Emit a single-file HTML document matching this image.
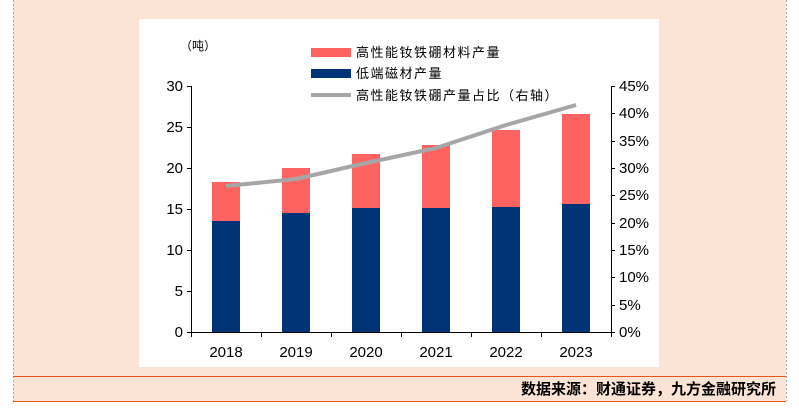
<!DOCTYPE html>
<html><head><meta charset="utf-8"><style>
body{margin:0;width:799px;height:412px;background:#fff;overflow:hidden}
svg{display:block}
text{font-family:"Liberation Sans","Noto Sans CJK SC",sans-serif;fill:#000}
</style></head><body>
<svg width="799" height="412" viewBox="0 0 799 412">
<rect x="13" y="0" width="773" height="401" fill="#fbe3d6"/>
<line x1="13.5" y1="0" x2="13.5" y2="401" stroke="#aaa" stroke-dasharray="2,2"/>
<line x1="786.5" y1="0" x2="786.5" y2="401" stroke="#aaa" stroke-dasharray="2,2"/>
<rect x="139" y="19" width="520" height="348" fill="#fff"/>
<line x1="13" y1="376.5" x2="786" y2="376.5" stroke="#e8541c" stroke-width="1"/>
<line x1="13" y1="401.5" x2="786" y2="401.5" stroke="#e8541c" stroke-width="1"/>
<text x="776" y="394" font-size="15" text-anchor="end" font-weight="bold">数据来源：财通证券，九方金融研究所</text>
<g id="bars">
<rect x="212" y="182" width="28" height="150" fill="#ff6361"/>
<rect x="282" y="168" width="28" height="164" fill="#ff6361"/>
<rect x="352" y="154" width="28" height="178" fill="#ff6361"/>
<rect x="422" y="145" width="28" height="187" fill="#ff6361"/>
<rect x="492" y="130" width="28" height="202" fill="#ff6361"/>
<rect x="562" y="114" width="28" height="218" fill="#ff6361"/>
<rect x="212" y="221" width="28" height="111" fill="#003478"/>
<rect x="282" y="213" width="28" height="119" fill="#003478"/>
<rect x="352" y="208" width="28" height="124" fill="#003478"/>
<rect x="422" y="208" width="28" height="124" fill="#003478"/>
<rect x="492" y="207" width="28" height="125" fill="#003478"/>
<rect x="562" y="204" width="28" height="128" fill="#003478"/>
</g>
<polyline points="226,186 296,179 366,163 436,148 506,125 576,105" fill="none" stroke="#a6a6a6" stroke-width="4" stroke-linejoin="round"/>
<g stroke="#000" stroke-width="1">
<line x1="191.5" y1="86" x2="191.5" y2="332"/>
<line x1="191" y1="332.5" x2="611" y2="332.5"/>
<line x1="611.5" y1="86" x2="611.5" y2="332"/>
<path d="M187 86.5h4M187 127.5h4M187 168.5h4M187 209.5h4M187 250.5h4M187 291.5h4M187 332.5h4"/>
<path d="M611 86.5h4M611 113.5h4M611 141.5h4M611 168.5h4M611 195.5h4M611 223.5h4M611 250.5h4M611 277.5h4M611 305.5h4M611 332.5h4"/>
<path d="M191.5 332v5M261.5 332v5M331.5 332v5M401.5 332v5M471.5 332v5M541.5 332v5M611.5 332v5"/>
</g>
<g font-size="15" text-anchor="end">
<text x="183" y="91">30</text><text x="183" y="132">25</text><text x="183" y="173">20</text>
<text x="183" y="214">15</text><text x="183" y="255">10</text><text x="183" y="296">5</text><text x="183" y="337">0</text>
</g>
<g font-size="15">
<text x="619" y="91">45%</text><text x="619" y="118">40%</text><text x="619" y="146">35%</text>
<text x="619" y="173">30%</text><text x="619" y="200">25%</text><text x="619" y="228">20%</text>
<text x="619" y="255">15%</text><text x="619" y="282">10%</text><text x="619" y="310">5%</text><text x="619" y="337">0%</text>
</g>
<g font-size="15" text-anchor="middle">
<text x="226" y="357">2018</text><text x="296" y="357">2019</text><text x="366" y="357">2020</text>
<text x="436" y="357">2021</text><text x="506" y="357">2022</text><text x="576" y="357">2023</text>
</g>
<text x="180" y="50" font-size="12">（吨）</text>
<rect x="311" y="48" width="40" height="9" fill="#ff6361"/>
<rect x="311" y="69" width="40" height="9" fill="#003478"/>
<line x1="311" y1="95" x2="351" y2="95" stroke="#a6a6a6" stroke-width="4"/>
<g font-size="13" letter-spacing="1.5">
<text x="356" y="57">高性能钕铁硼材料产量</text>
<text x="356" y="78">低端磁材产量</text>
<text x="356" y="100">高性能钕铁硼产量占比（右轴）</text>
</g>
</svg>
</body></html>
